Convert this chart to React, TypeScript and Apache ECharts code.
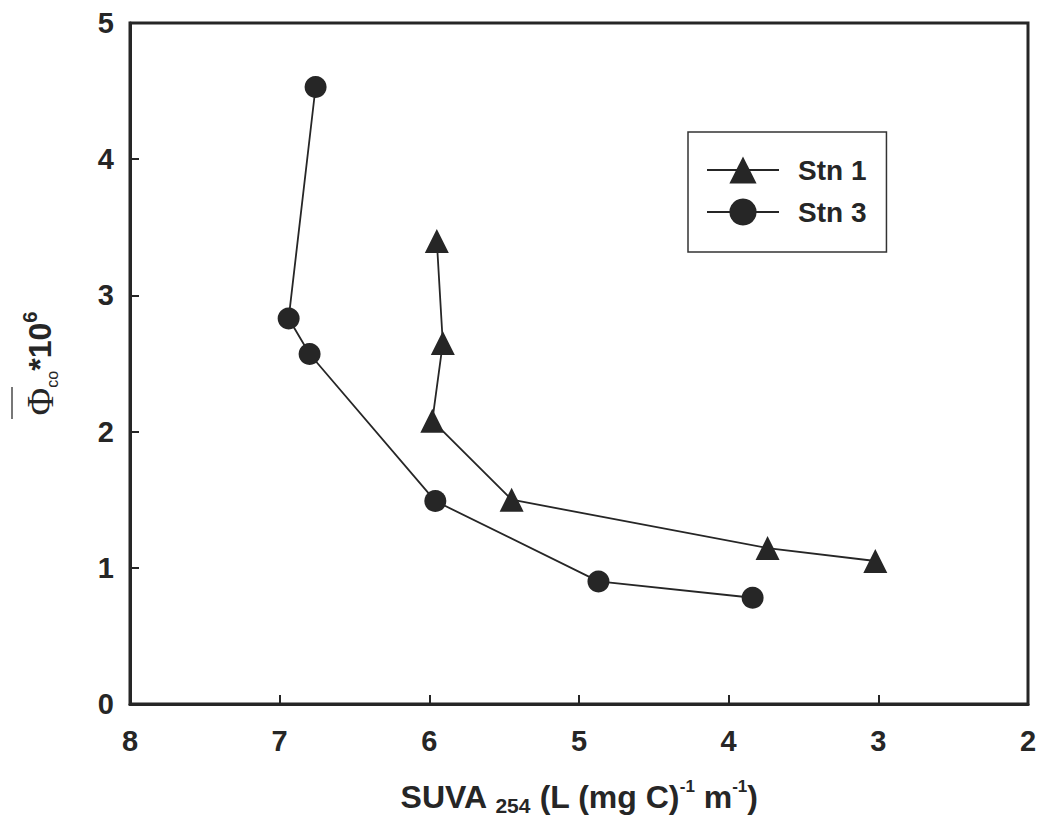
import React, { useEffect, useRef } from "react";
import * as echarts from "echarts";

const stn1X = [5.95, 5.91, 5.98, 5.45, 3.74, 3.02];
const stn1Y = [3.4, 2.65, 2.08, 1.5, 1.145, 1.05];
const stn3X = [6.76, 6.94, 6.8, 5.96, 4.87, 3.84];
const stn3Y = [4.53, 2.83, 2.57, 1.49, 0.9, 0.78];
const seriesNames = ["Stn 1", "Stn 3"];

const SANS = "'Liberation Sans', Arial, Helvetica, sans-serif";
const SERIF = "'Liberation Serif', 'Times New Roman', serif";
const INK = "#262626";

export default function App() {
  const ref = useRef<HTMLDivElement>(null);
  useEffect(() => {
    document.body.style.margin = "0";
    if (!ref.current) return;
    const chart = echarts.init(ref.current, null, { renderer: "svg" });
    const pairs = (xs: number[], ys: number[]) => xs.map((x, i) => [x, ys[i]]);
    chart.setOption({
      animation: false,
      backgroundColor: "#ffffff",
      grid: {
        left: 130,
        top: 23,
        width: 898,
        height: 681,
        show: true,
        borderColor: INK,
        borderWidth: 3,
        outerBoundsMode: "none",
        containLabel: false,
      },
      legend: {
        data: seriesNames,
        orient: "vertical",
        left: 688,
        top: 132,
        borderColor: "#333",
        borderWidth: 1.5,
        padding: [24, 20, 26, 18],
        itemWidth: 72,
        itemHeight: 34,
        itemGap: 14,
        textStyle: {
          fontFamily: SANS,
          fontSize: 28,
          fontWeight: "bold",
          color: INK,
          padding: [0, 0, 0, 14],
        },
      },
      xAxis: {
        type: "value",
        min: 2,
        max: 8,
        interval: 1,
        inverse: true,
        name:
          "{m|SUVA }{s|254}{m| (L (mg C)}{p|-1}{m| m}{p|-1}{m|)}",
        nameLocation: "middle",
        nameGap: 74,
        nameTextStyle: {
          rich: {
            m: { fontFamily: SANS, fontSize: 32, fontWeight: "bold", color: INK, lineHeight: 38 },
            s: { fontFamily: SANS, fontSize: 21, fontWeight: "bold", color: INK, lineHeight: 27, verticalAlign: "bottom" },
            p: { fontFamily: SANS, fontSize: 17, fontWeight: "bold", color: INK, lineHeight: 14, verticalAlign: "top" },
          },
        },
        axisLine: { show: true, lineStyle: { color: INK, width: 3 } },
        axisTick: { show: true, inside: true, length: 9, lineStyle: { color: INK, width: 2 } },
        axisLabel: { margin: 22, fontFamily: SANS, fontSize: 29, fontWeight: "bold", color: INK },
        splitLine: { show: false },
      },
      yAxis: {
        type: "value",
        min: 0,
        max: 5,
        interval: 1,
        name: "{f|Φ}{c|co}{m|*10}{p|6}",
        nameLocation: "middle",
        nameRotate: 90,
        nameGap: 70,
        nameTextStyle: {
          rich: {
            f: { fontFamily: SERIF, fontSize: 38, color: INK, lineHeight: 40 },
            c: { fontFamily: SANS, fontSize: 16, color: INK, lineHeight: 12, verticalAlign: "bottom" },
            m: { fontFamily: SANS, fontSize: 32, fontWeight: "bold", color: INK, lineHeight: 40 },
            p: { fontFamily: SANS, fontSize: 20, fontWeight: "bold", color: INK, lineHeight: 12, verticalAlign: "top" },
          },
        },
        axisLine: { show: true, lineStyle: { color: INK, width: 3 } },
        axisTick: { show: true, inside: true, length: 9, lineStyle: { color: INK, width: 2 } },
        axisLabel: { margin: 16, fontFamily: SANS, fontSize: 29, fontWeight: "bold", color: INK },
        splitLine: { show: false },
      },
      graphic: [
        {
          type: "line",
          shape: { x1: 12, y1: 387, x2: 12, y2: 419 },
          style: { stroke: "#777", lineWidth: 2 },
        },
      ],
      series: [
        {
          name: seriesNames[0],
          type: "line",
          data: pairs(stn1X, stn1Y),
          symbol: "triangle",
          symbolSize: 24,
          itemStyle: { color: INK },
          lineStyle: { color: INK, width: 1.8 },
        },
        {
          name: seriesNames[1],
          type: "line",
          data: pairs(stn3X, stn3Y),
          symbol: "circle",
          symbolSize: 22,
          itemStyle: { color: INK },
          lineStyle: { color: INK, width: 1.8 },
        },
      ],
    });
    return () => chart.dispose();
  }, []);
  return <div ref={ref} style={{ width: 1041, height: 831 }} />;
}
